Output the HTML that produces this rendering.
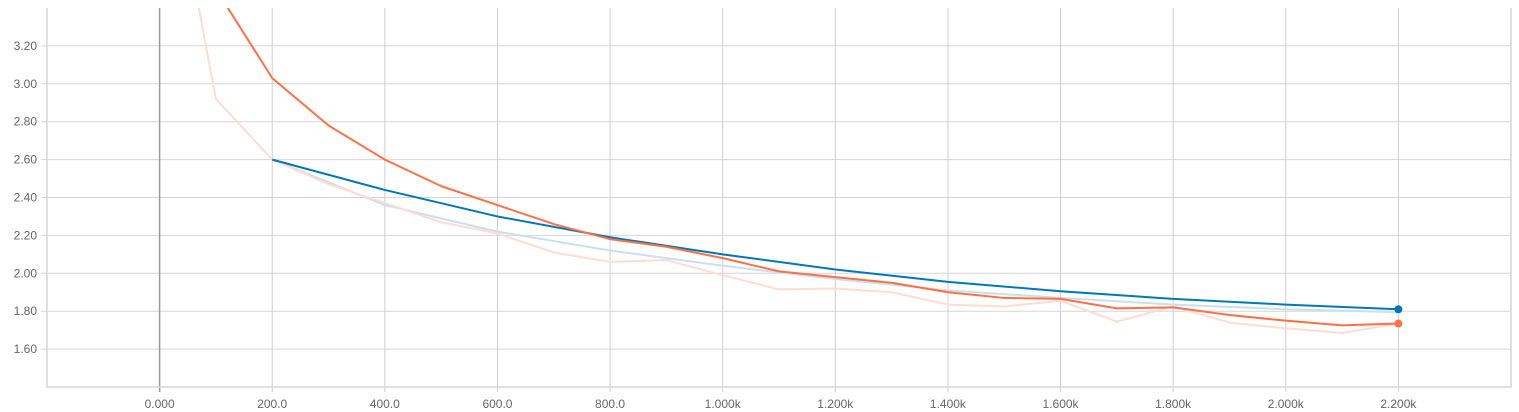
<!DOCTYPE html>
<html><head><meta charset="utf-8"><style>
html,body{margin:0;padding:0;background:#fff;width:1519px;height:412px;overflow:hidden}
svg{display:block;font-family:"Liberation Sans",sans-serif}
</style></head><body>
<svg id="chart" width="1519" height="412"></svg>
<script>
const xTicks=[0,200,400,600,800,1000,1200,1400,1600,1800,2000,2200];
const xTickLabels=["0.000","200.0","400.0","600.0","800.0","1.000k","1.200k","1.400k","1.600k","1.800k","2.000k","2.200k"];
const yTicks=[1.6,1.8,2.0,2.2,2.4,2.6,2.8,3.0,3.2];
const yTickLabels=["1.60","1.80","2.00","2.20","2.40","2.60","2.80","3.00","3.20"];
const orangeSteps=[100,200,300,400,500,600,700,800,900,1000,1100,1200,1300,1400,1500,1600,1700,1800,1900,2000,2100,2200];
const orangeSmooth=[3.5,3.03,2.78,2.60,2.46,2.36,2.26,2.18,2.14,2.08,2.01,1.98,1.95,1.90,1.87,1.865,1.815,1.82,1.78,1.75,1.725,1.735];
const orangeRawSteps=[0,100,200,300,400,500,600,700,800,900,1000,1100,1200,1300,1400,1500,1600,1700,1800,1900,2000,2100,2200];
const orangeRaw=[4.5,2.92,2.60,2.47,2.37,2.27,2.21,2.11,2.06,2.07,1.99,1.915,1.92,1.90,1.835,1.825,1.855,1.745,1.825,1.74,1.71,1.685,1.735];
const blueSteps=[200,400,600,800,1000,1200,1400,1600,1800,2000,2200];
const blueSmooth=[2.60,2.44,2.30,2.19,2.10,2.02,1.955,1.905,1.865,1.835,1.81];
const blueRaw=[2.60,2.36,2.22,2.12,2.04,1.97,1.91,1.87,1.835,1.81,1.795];

const L=47,R=1511,T=8,B=387,XMIN=-200,XMAX=2400,YMIN=1.4,YMAX=3.4;
const sx=v=>L+(v-XMIN)/(XMAX-XMIN)*(R-L);
const sy=v=>B-(v-YMIN)/(YMAX-YMIN)*(B-T);
const svg=document.getElementById('chart');
const NS='http://www.w3.org/2000/svg';
function mk(tag,attrs,parent){const e=document.createElementNS(NS,tag);for(const k in attrs)e.setAttribute(k,attrs[k]);(parent||svg).appendChild(e);return e;}
const defs=mk('defs',{});const cp=mk('clipPath',{id:'clip'},defs);mk('rect',{x:L,y:T,width:R-L,height:B-T},cp);

yTicks.forEach((v,i)=>{
  const g=mk('line',{x1:L-6,x2:R,y1:sy(v),y2:sy(v),stroke:'#d6d6d6','stroke-width':1});
  
  
  const t=mk('text',{x:L-10,y:sy(v)+4,'text-anchor':'end','font-size':12,fill:'#666'});
  t.textContent=yTickLabels[i];
  
  
});
xTicks.forEach((v,i)=>{
  const g=mk('line',{x1:sx(v),x2:sx(v),y1:T,y2:B+5,stroke:v===0?'#999':'#cfcfcf','stroke-width':v===0?1.5:1});
  
  
  const t=mk('text',{x:sx(v),y:B+21,'text-anchor':'middle','font-size':12,fill:'#666'});
  t.textContent=xTickLabels[i];
  
  
});
const frame=mk('path',{d:`M${L} ${T}V${B}H${R}V${T}`,fill:'none',stroke:'#d6d6d6','stroke-width':1.5});



function line(xs,ys,color,w,name){
  const p=mk('polyline',{points:xs.map((x,i)=>sx(x)+','+sy(ys[i])).join(' '),fill:'none',stroke:color,'stroke-width':w,'clip-path':'url(#clip)','stroke-linejoin':'round'});
  
  
}
line(blueSteps,blueRaw,'#c8dff0',2,'blue-raw-line');
line(orangeRawSteps,orangeRaw,'#ffdcd2',2,'orange-raw-line');
line(blueSteps,blueSmooth,'#0077bb',2,'blue-smoothed-line');
line(orangeSteps,orangeSmooth,'#ff7043',2,'orange-smoothed-line');
const d1=mk('circle',{cx:sx(blueSteps[blueSteps.length-1]),cy:sy(blueSmooth[blueSmooth.length-1]),r:4,fill:'#0077bb'});


const d2=mk('circle',{cx:sx(orangeSteps[orangeSteps.length-1]),cy:sy(orangeSmooth[orangeSmooth.length-1]),r:4,fill:'#ff7043'});


</script>
</body></html>
